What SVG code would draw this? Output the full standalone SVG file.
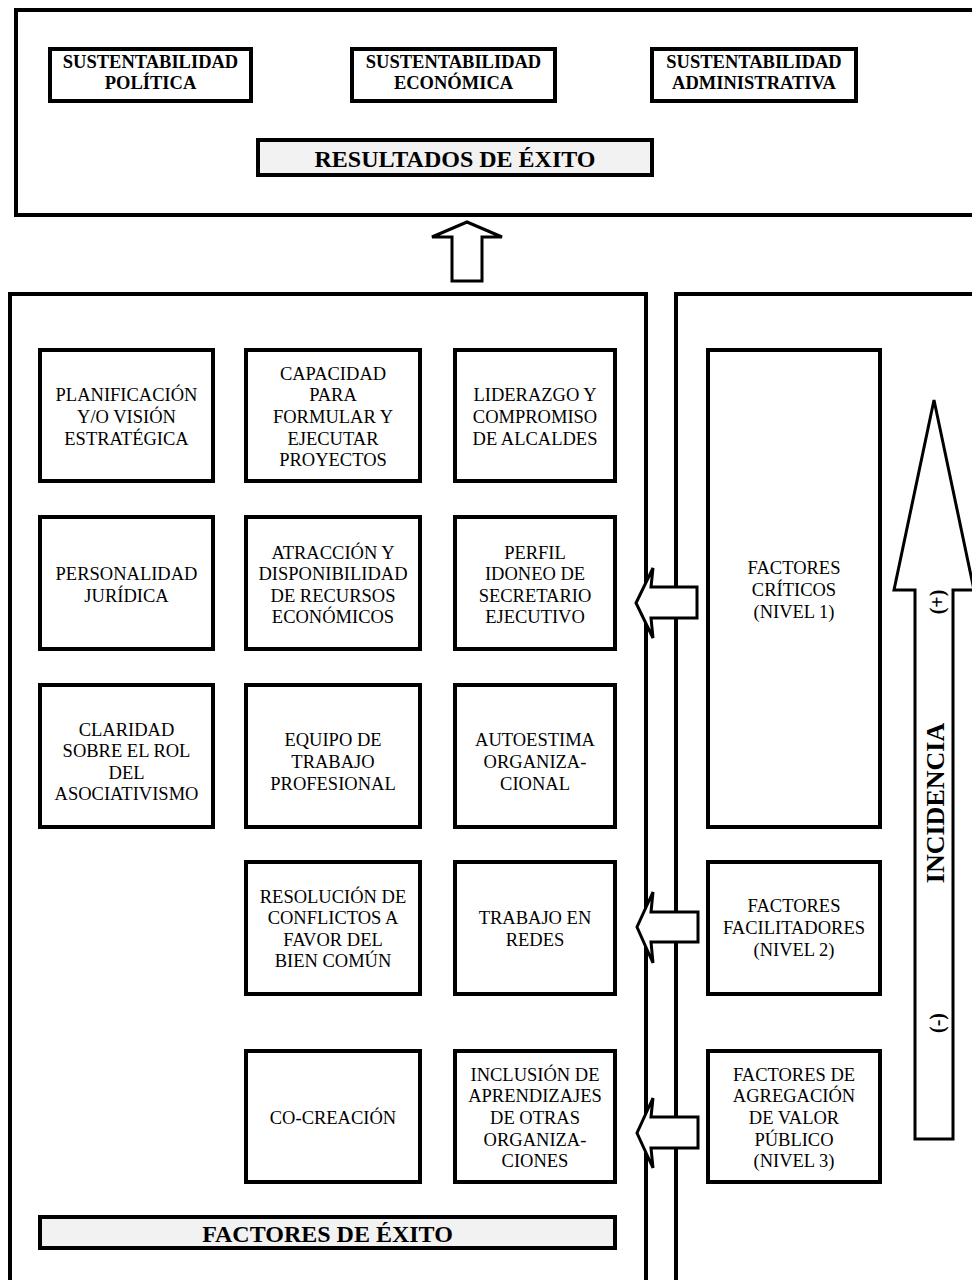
<svg xmlns="http://www.w3.org/2000/svg" width="972" height="1280" viewBox="0 0 972 1280">
<style>
.frame{fill:#fff;stroke:#000;stroke-width:4}
.box{fill:#fff;stroke:#000;stroke-width:4}
.bar{fill:#f2f2f2;stroke:#000;stroke-width:4}
.arrow{fill:#fff;stroke:#000;stroke-width:3;stroke-linejoin:miter}
.t{font-family:"Liberation Serif","Times New Roman",serif;font-size:18.5px;text-anchor:middle;fill:#000}
.tb{font-family:"Liberation Serif","Times New Roman",serif;font-weight:bold;text-anchor:middle;fill:#000}
</style>
<rect width="972" height="1280" fill="#fff"/>

<g id="resultados-frame">
<path class="frame" d="M980,10 H16 V215 H980"/>
</g>
<g id="sust-politica">
<rect class="box" x="50" y="49" width="201" height="52"/>
<text class="tb" font-size="18.5" x="150.5" y="68">SUSTENTABILIDAD<tspan x="150.5" y="89">POLÍTICA</tspan></text>
</g>
<g id="sust-economica">
<rect class="box" x="352" y="49" width="203" height="52"/>
<text class="tb" font-size="18.5" x="453.5" y="68">SUSTENTABILIDAD<tspan x="453.5" y="89">ECONÓMICA</tspan></text>
</g>
<g id="sust-administrativa">
<rect class="box" x="652" y="49" width="204" height="52"/>
<text class="tb" font-size="18.5" x="754" y="68">SUSTENTABILIDAD<tspan x="754" y="89">ADMINISTRATIVA</tspan></text>
</g>
<g id="resultados-exito">
<rect class="bar" x="258" y="140" width="394" height="35"/>
<text class="tb" font-size="24" x="455" y="166.5">RESULTADOS DE ÉXITO</text>
</g>

<g id="factores-frame">
<path class="frame" d="M10,1290 V294 H646 V1290"/>
</g>
<g id="niveles-frame">
<path class="frame" d="M676,1290 V294 H980"/>
</g>

<g id="planificacion">
<rect class="box" x="40" y="350" width="173" height="131"/>
<text class="t" x="126.5" y="401.4">PLANIFICACIÓN<tspan x="126.5" dy="21.6">Y/O VISIÓN</tspan><tspan x="126.5" dy="21.6">ESTRATÉGICA</tspan></text>
</g>
<g id="capacidad">
<rect class="box" x="246" y="350" width="174" height="131"/>
<text class="t" x="333" y="379.8">CAPACIDAD<tspan x="333" dy="21.6">PARA</tspan><tspan x="333" dy="21.6">FORMULAR Y</tspan><tspan x="333" dy="21.6">EJECUTAR</tspan><tspan x="333" dy="21.6">PROYECTOS</tspan></text>
</g>
<g id="liderazgo">
<rect class="box" x="455" y="350" width="160" height="131"/>
<text class="t" x="535" y="401.4">LIDERAZGO Y<tspan x="535" dy="21.6">COMPROMISO</tspan><tspan x="535" dy="21.6">DE ALCALDES</tspan></text>
</g>
<g id="personalidad">
<rect class="box" x="40" y="517" width="173" height="132"/>
<text class="t" x="126.5" y="580.2">PERSONALIDAD<tspan x="126.5" dy="21.6">JURÍDICA</tspan></text>
</g>
<g id="atraccion">
<rect class="box" x="246" y="517" width="174" height="132"/>
<text class="t" x="333" y="558.6">ATRACCIÓN Y<tspan x="333" dy="21.6">DISPONIBILIDAD</tspan><tspan x="333" dy="21.6">DE RECURSOS</tspan><tspan x="333" dy="21.6">ECONÓMICOS</tspan></text>
</g>
<g id="perfil">
<rect class="box" x="455" y="517" width="160" height="132"/>
<text class="t" x="535" y="558.6">PERFIL<tspan x="535" dy="21.6">IDONEO DE</tspan><tspan x="535" dy="21.6">SECRETARIO</tspan><tspan x="535" dy="21.6">EJECUTIVO</tspan></text>
</g>
<g id="claridad">
<rect class="box" x="40" y="685" width="173" height="142"/>
<text class="t" x="126.5" y="735.6">CLARIDAD<tspan x="126.5" dy="21.6">SOBRE EL ROL</tspan><tspan x="126.5" dy="21.6">DEL</tspan><tspan x="126.5" dy="21.6">ASOCIATIVISMO</tspan></text>
</g>
<g id="equipo">
<rect class="box" x="246" y="685" width="174" height="142"/>
<text class="t" x="333" y="746.4">EQUIPO DE<tspan x="333" dy="21.6">TRABAJO</tspan><tspan x="333" dy="21.6">PROFESIONAL</tspan></text>
</g>
<g id="autoestima">
<rect class="box" x="455" y="685" width="160" height="142"/>
<text class="t" x="535" y="746.4">AUTOESTIMA<tspan x="535" dy="21.6">ORGANIZA-</tspan><tspan x="535" dy="21.6">CIONAL</tspan></text>
</g>
<g id="resolucion">
<rect class="box" x="246" y="862" width="174" height="132"/>
<text class="t" x="333" y="902.6">RESOLUCIÓN DE<tspan x="333" dy="21.6">CONFLICTOS A</tspan><tspan x="333" dy="21.6">FAVOR DEL</tspan><tspan x="333" dy="21.6">BIEN COMÚN</tspan></text>
</g>
<g id="redes">
<rect class="box" x="455" y="862" width="160" height="132"/>
<text class="t" x="535" y="924.2">TRABAJO EN<tspan x="535" dy="21.6">REDES</tspan></text>
</g>
<g id="cocreacion">
<rect class="box" x="246" y="1051" width="174" height="131"/>
<text class="t" x="333" y="1124">CO-CREACIÓN</text>
</g>
<g id="inclusion">
<rect class="box" x="455" y="1051" width="160" height="131"/>
<text class="t" x="535" y="1080.8">INCLUSIÓN DE<tspan x="535" dy="21.6">APRENDIZAJES</tspan><tspan x="535" dy="21.6">DE OTRAS</tspan><tspan x="535" dy="21.6">ORGANIZA-</tspan><tspan x="535" dy="21.6">CIONES</tspan></text>
</g>
<g id="factores-exito">
<rect class="bar" x="40" y="1217" width="575" height="31"/>
<text class="tb" font-size="24" x="327.5" y="1242">FACTORES DE ÉXITO</text>
</g>

<g id="factores-criticos">
<rect class="box" x="708" y="350" width="172" height="477"/>
<text class="t" x="794" y="574.4">FACTORES<tspan x="794" dy="21.6">CRÍTICOS</tspan><tspan x="794" dy="21.6">(NIVEL 1)</tspan></text>
</g>
<g id="factores-facilitadores">
<rect class="box" x="708" y="862" width="172" height="132"/>
<text class="t" x="794" y="912.4">FACTORES<tspan x="794" dy="21.6">FACILITADORES</tspan><tspan x="794" dy="21.6">(NIVEL 2)</tspan></text>
</g>
<g id="factores-agregacion">
<rect class="box" x="708" y="1051" width="172" height="131"/>
<text class="t" x="794" y="1080.8">FACTORES DE<tspan x="794" dy="21.6">AGREGACIÓN</tspan><tspan x="794" dy="21.6">DE VALOR</tspan><tspan x="794" dy="21.6">PÚBLICO</tspan><tspan x="794" dy="21.6">(NIVEL 3)</tspan></text>
</g>

<g id="incidencia">
<polygon class="arrow" points="934,400 894,590 915,590 915,1139 953,1139 953,590 974,590"/>
<text class="tb" font-size="20" transform="translate(944,602) rotate(-90)" x="0" y="0">(+)</text>
<text class="tb" font-size="26" transform="translate(944,803) rotate(-90)" x="0" y="0">INCIDENCIA</text>
<text class="tb" font-size="20" transform="translate(944,1023) rotate(-90)" x="0" y="0">(-)</text>
</g>

<g id="connectors">
<polygon class="arrow" points="467,222 432,237 452,237 452,281 482,281 482,237 502,237"/>
<polygon class="arrow" points="697,587 651,587 653,568 636,603 653,638 651,618 697,618"/>
<polygon class="arrow" points="698,912 651,912 653,892 637,927 653,963 651,942 698,942"/>
<polygon class="arrow" points="698,1117 651,1117 653,1098 637,1133 653,1168 651,1148 698,1148"/>
</g>
</svg>
